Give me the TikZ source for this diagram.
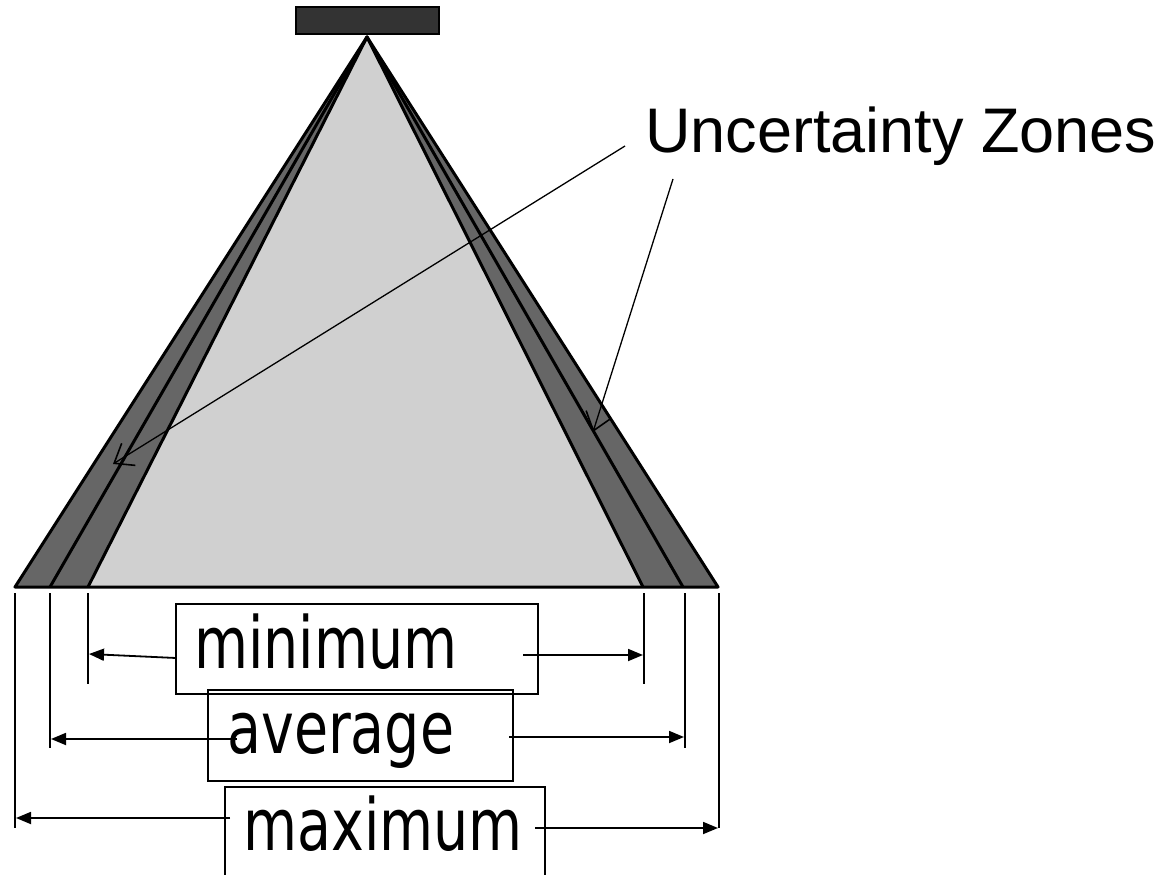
\documentclass[tikz,border=0pt]{standalone}
\usepackage{fontspec}
\setmainfont{Liberation Sans}
\newfontfamily\labfont[FakeStretch=0.77]{DejaVu Sans}
\usetikzlibrary{arrows.meta}
\definecolor{zonegray}{HTML}{666666}
\definecolor{innergray}{HTML}{D0D0D0}
\definecolor{topgray}{HTML}{333333}
\begin{document}
\begin{tikzpicture}[x=1pt,y=-1pt,
  edge/.style={line width=3pt, line join=round},
  dim/.style={line width=2pt},
  dimarrow/.style={line width=1.8pt,-{Triangle[length=15pt,width=12pt]}},
  callout/.style={line width=1.3pt,-{Straight Barb[length=17pt,width=26pt,line width=1.6pt]}},
  lab/.style={font=\labfont\fontsize{72}{80}\selectfont, inner sep=0pt, anchor=base west},
  box/.style={draw, line width=2pt}]
\useasboundingbox (0,0) rectangle (1171,875);
% geometry
\coordinate (apex) at (367,37);
\coordinate (oL) at (15,587);
\coordinate (mL) at (50,587);
\coordinate (iL) at (88,587);
\coordinate (iR) at (643,587);
\coordinate (mR) at (683,587);
\coordinate (oR) at (718,587);
% cone
\fill[zonegray] (apex) -- (oL) -- (oR) -- cycle;
\fill[innergray] (apex) -- (iL) -- (iR) -- cycle;
\draw[edge] (mL) -- (apex) -- (mR);
\draw[edge] (iL) -- (apex) -- (iR);
\draw[edge] (oL) -- (apex) -- (oR) -- cycle;
% source
\node[draw, line width=2pt, fill=topgray, minimum width=143pt, minimum height=27pt, inner sep=0pt] (src) at (367,21) {};
% ticks
\coordinate (t1a) at (15,593);  \coordinate (t1b) at (15,828);
\coordinate (t2a) at (50,593);  \coordinate (t2b) at (50,748);
\coordinate (t3a) at (88,593);  \coordinate (t3b) at (88,684);
\coordinate (t4a) at (644,593); \coordinate (t4b) at (644,684);
\coordinate (t5a) at (685,593); \coordinate (t5b) at (685,748);
\coordinate (t6a) at (719,593); \coordinate (t6b) at (719,828);
\foreach \t in {1,...,6} \draw[dim] (t\t a) -- (t\t b);
% boxes
\draw[box] (176,604) rectangle (538,694);
\draw[box] (208,690) rectangle (513,781);
\begin{scope}
\clip (0,0) rectangle (1171,875);
\draw[box] (225,787) rectangle (545,895);
\end{scope}
% labels
\node[lab] (minlab) at (194,668) {minimum};
\node[lab] (avglab) at (227,753) {average};
\node[lab] (maxlab) at (243,850) {maximum};
% dimension arrows
\coordinate (minL) at (176,658); \coordinate (minLe) at (89,654);
\coordinate (minR) at (523,655); \coordinate (minRe) at (643,655);
\coordinate (avgL) at (237,739); \coordinate (avgLe) at (51,739);
\coordinate (avgR) at (509,737); \coordinate (avgRe) at (684,737);
\coordinate (maxL) at (230,818); \coordinate (maxLe) at (16,818);
\coordinate (maxR) at (535,828); \coordinate (maxRe) at (718,828);
\draw[dimarrow] (minL) -- (minLe);
\draw[dimarrow] (minR) -- (minRe);
\draw[dimarrow] (avgL) -- (avgLe);
\draw[dimarrow] (avgR) -- (avgRe);
\draw[dimarrow] (maxL) -- (maxLe);
\draw[dimarrow] (maxR) -- (maxRe);
% callout
\node[font=\fontsize{63}{70}\selectfont, inner sep=0pt, anchor=base west] (uz) at (645,153) {Uncertainty Zones};
\coordinate (c1) at (625,146); \coordinate (c1e) at (113,464);
\coordinate (c2) at (673,179); \coordinate (c2e) at (593,432);
\draw[callout] (c1) -- (c1e);
\draw[callout] (c2) -- (c2e);
\end{tikzpicture}
\end{document}
